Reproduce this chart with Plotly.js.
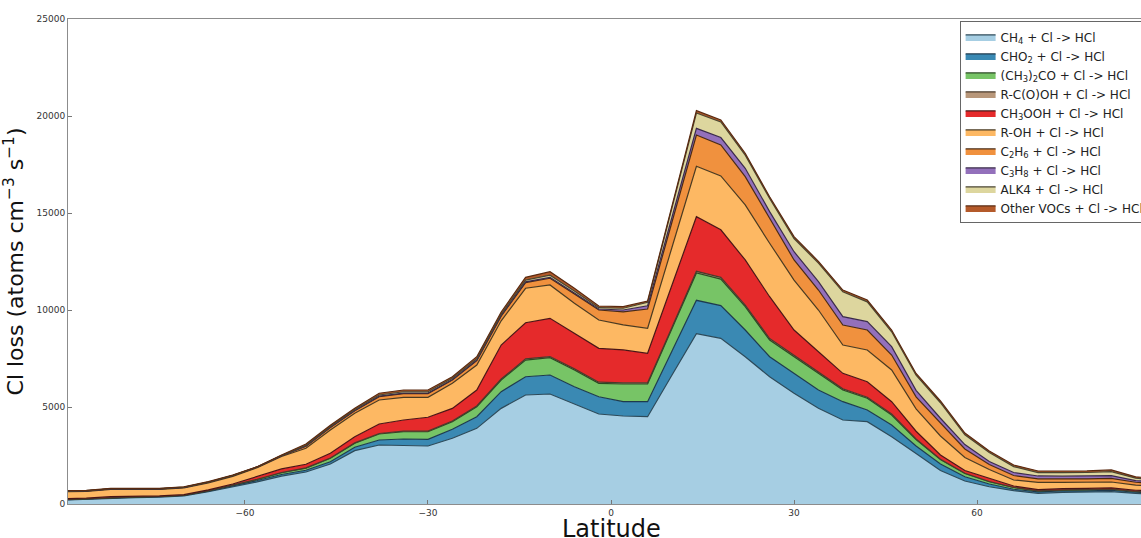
<!DOCTYPE html>
<html>
<head>
<meta charset="utf-8">
<script src="https://cdn.plot.ly/plotly-3.0.1.min.js"></script>
<style>
  html, body { margin: 0; padding: 0; background: #fff; overflow: hidden; width: 1141px; height: 538px; }
  #chart { width: 1200px; height: 538px; }
</style>
</head>
<body>
<div id="chart"></div>
<script>
// Model latitude grid (4 x 5 degree centres, half-boxes at the poles)
const latitude = [-89,-86,-82,-78,-74,-70,-66,-62,-58,-54,-50,-46,-42,-38,-34,-30,-26,-22,-18,-14,-10,-6,-2,2,6,10,14,18,22,26,30,34,38,42,46,50,54,58,62,66,70,74,78,82,86,89];

// Zonal-mean Cl loss to HCl by each reaction partner (atoms cm^-3 s^-1)
const ch4 = [205,240,320,330,355,420,630,880,1140,1440,1650,2060,2750,3040,3005,2990,3390,3900,4930,5620,5670,5140,4640,4535,4500,6650,8780,8540,7590,6560,5705,4935,4330,4245,3470,2600,1725,1185,890,685,550,600,610,640,545,520];
const cho2 = [20,20,20,20,20,20,30,45,70,80,90,120,175,260,345,345,460,600,860,940,980,905,890,740,775,1240,1720,1690,1380,1030,1035,940,945,600,600,390,335,220,140,75,70,70,70,70,60,55];
const acetone = [15,15,15,15,15,15,25,40,60,95,110,175,205,310,375,390,390,515,600,860,890,860,690,910,910,1150,1405,1365,1200,860,855,860,600,605,515,330,230,165,120,90,50,50,50,50,40,40];
const rcooh = [3,3,3,3,3,3,4,5,6,8,10,15,20,25,30,30,35,40,50,60,60,60,60,60,60,75,90,90,85,80,75,70,60,55,50,30,20,15,10,8,5,5,5,5,5,5];
const ch3ooh = [30,20,20,20,22,25,40,60,140,185,190,245,320,490,575,715,655,820,1755,1865,1970,1835,1745,1695,1525,2170,2815,2450,2325,2155,1300,1045,800,800,640,400,215,140,155,70,70,70,70,70,60,55];
const roh = [360,355,370,360,335,345,355,395,460,640,820,1200,1205,1235,1170,1030,1290,1290,1250,1775,1720,1545,1460,1290,1290,1950,2600,2775,2835,2755,2575,2150,1460,1635,1635,1150,980,670,465,310,365,320,310,300,260,250];
const c2h6 = [25,25,30,30,30,30,35,40,25,40,110,130,130,175,190,190,170,220,240,290,345,480,515,670,990,1300,1610,1600,1460,1290,1035,1030,1030,1030,770,620,655,440,255,230,190,180,180,190,150,140];
const c3h8 = [3,3,3,3,3,4,4,4,3,5,15,15,20,25,30,30,30,35,35,40,50,50,50,100,170,260,345,380,430,340,425,430,430,430,430,340,260,230,155,155,145,140,140,140,90,85];
const alk4 = [5,5,5,5,5,6,6,6,5,10,35,40,45,60,65,65,60,70,70,90,110,100,70,90,175,480,790,800,675,675,680,955,1280,1020,765,780,800,505,460,305,175,185,190,205,120,110];
const otherVocs = [20,20,22,22,22,22,22,22,15,25,60,60,65,87,92,92,82,103,108,145,180,145,87,80,70,95,120,105,100,95,95,95,95,95,95,90,90,90,85,80,80,80,80,85,70,65];

const seriesNames = [
  'CH<sub>4</sub> + Cl -&gt; HCl',
  'CHO<sub>2</sub> + Cl -&gt; HCl',
  '(CH<sub>3</sub>)<sub>2</sub>CO + Cl -&gt; HCl',
  'R-C(O)OH + Cl -&gt; HCl',
  'CH<sub>3</sub>OOH + Cl -&gt; HCl',
  'R-OH + Cl -&gt; HCl',
  'C<sub>2</sub>H<sub>6</sub> + Cl -&gt; HCl',
  'C<sub>3</sub>H<sub>8</sub> + Cl -&gt; HCl',
  'ALK4 + Cl -&gt; HCl',
  'Other VOCs + Cl -&gt; HCl'
];
const seriesValues = [ch4, cho2, acetone, rcooh, ch3ooh, roh, c2h6, c3h8, alk4, otherVocs];
const fillColors = ['#a6cee3','#3a89b3','#77c466','#b8977a','#e52a2b','#fdb863','#f0913e','#9370bb','#ddd69e','#b45a2a'];
const edgeColors = ['#2c4a5a','#1d3a4e','#2a4a22','#4a3a2a','#4a1515','#4a3a20','#4a2a12','#3a2a4a','#4a4530','#5a2a10'];

const traces = seriesValues.map((vals, i) => ({
  type: 'scatter',
  mode: 'lines',
  x: latitude,
  y: vals,
  name: seriesNames[i],
  stackgroup: 'cl',
  fillcolor: fillColors[i],
  line: { color: edgeColors[i], width: 1.2, shape: 'linear' },
  hoverinfo: 'x+y+name'
}));

const layout = {
  width: 1200,
  height: 538,
  margin: { l: 68, r: 46, t: 19, b: 34 },
  paper_bgcolor: '#ffffff',
  plot_bgcolor: '#ffffff',
  font: { family: 'DejaVu Sans, sans-serif', color: '#222' },
  showlegend: true,
  legend: {
    x: 0.821, y: 0.995, xanchor: 'left', yanchor: 'top',
    bgcolor: '#ffffff', bordercolor: '#666', borderwidth: 1,
    font: { size: 12, color: '#222' },
    traceorder: 'normal',
    itemwidth: 30
  },
  xaxis: {
    range: [-89, 89],
    tickvals: [-60, -30, 0, 30, 60],
    ticks: 'inside', ticklen: 4, tickcolor: '#777',
    tickfont: { size: 9, color: '#333' },
    showgrid: false, zeroline: false,
    showline: true, linecolor: '#8c8c8c', linewidth: 1, mirror: true,
    automargin: false
  },
  yaxis: {
    range: [0, 25000],
    tickvals: [0, 5000, 10000, 15000, 20000, 25000],
    ticktext: ['0', '5000', '10000', '15000', '20000', '25000'],
    ticks: 'inside', ticklen: 4, tickcolor: '#777',
    tickfont: { size: 9, color: '#333' },
    showgrid: false, zeroline: false,
    showline: true, linecolor: '#8c8c8c', linewidth: 1, mirror: true,
    automargin: false,
    title: { text: 'Cl loss (atoms cm<sup>−3</sup> s<sup>−1</sup>)', font: { size: 22, color: '#111' }, standoff: 6 }
  },
  // x-axis caption, centred under latitude 0 just below the tick labels
  annotations: [{
    text: 'Latitude',
    xref: 'x', x: 0,
    yref: 'paper', y: 0, yanchor: 'middle',
    yshift: -25,
    showarrow: false,
    font: { size: 24, color: '#111' }
  }]
};

Plotly.newPlot('chart', traces, layout, { displayModeBar: false, staticPlot: true });
</script>
</body>
</html>
